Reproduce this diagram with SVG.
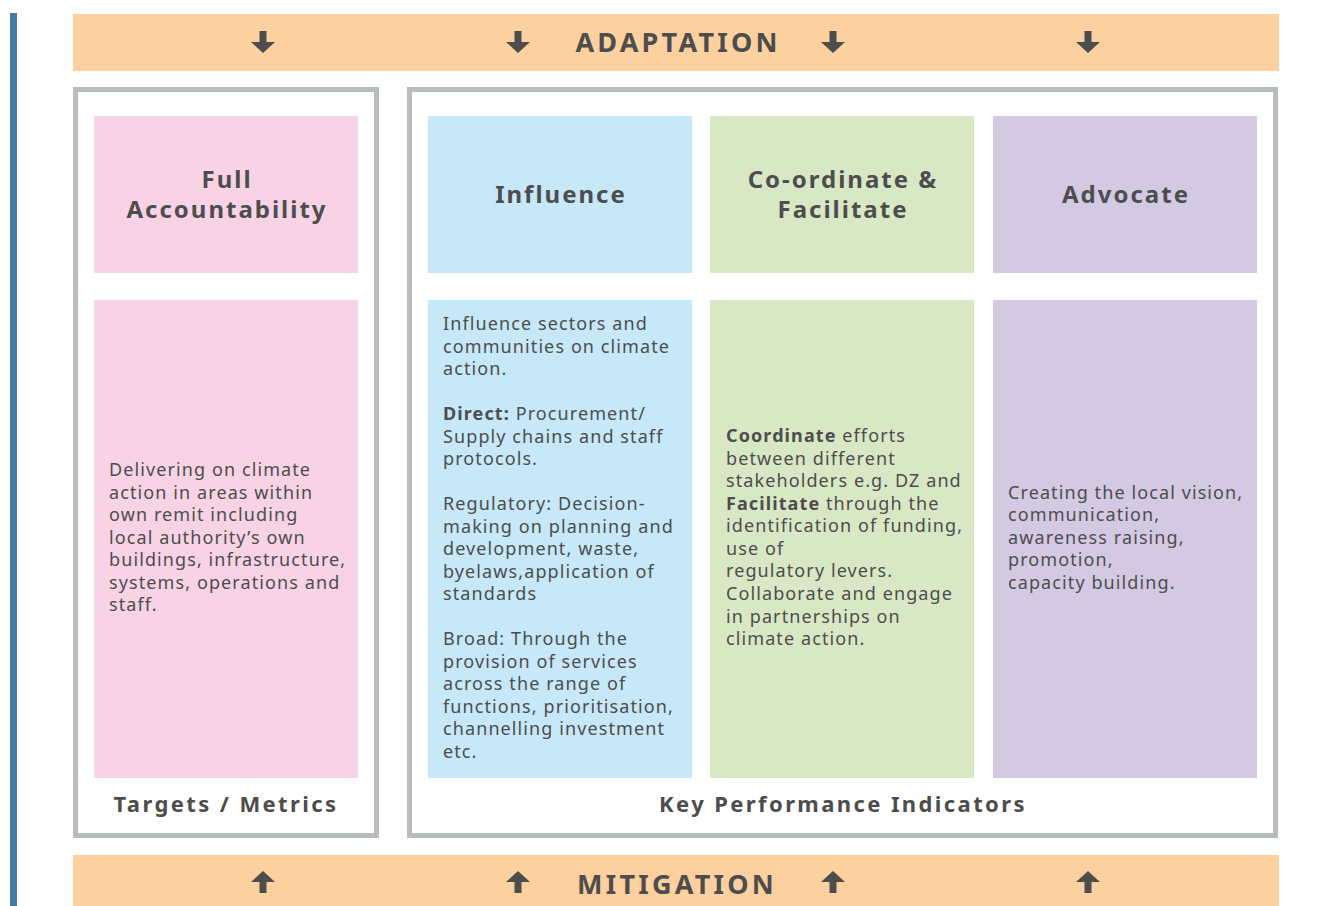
<svg xmlns="http://www.w3.org/2000/svg" xmlns:xlink="http://www.w3.org/1999/xlink" width="1330" height="906" viewBox="0 0 1330 906">
<style>
.band{fill:#fdd09f}
.frame{fill:#fff;stroke:#b8bcbf;stroke-width:5}
.pink{fill:#f8d3e5}.blue{fill:#c6e8f8}.green{fill:#d8e8c5}.purple{fill:#d4c9e3}
text{font-family:"Noto Sans","Open Sans","DejaVu Sans",sans-serif;fill:#4d4d4d}
.band-t{font-size:27px;font-weight:bold;letter-spacing:3.2px;text-anchor:middle}
.hd{font-size:24px;font-weight:bold;letter-spacing:2px;text-anchor:middle}
.ft{font-size:22px;font-weight:bold;letter-spacing:2.4px;text-anchor:middle}
.bd{font-size:18px;letter-spacing:1.1px}
.b{font-weight:bold}
.arr{fill:#4d4d4d}
</style>
<defs>
<path id="down" d="M-3.5,-12 H3.5 V-1 H12 L0,10 L-12,-1 H-3.5 Z"/>
<path id="up" d="M-3.5,12 H3.5 V1 H12 L0,-10 L-12,1 H-3.5 Z"/>
</defs>
<rect x="10" y="13" width="7" height="893" fill="#457ba0"/>
<g id="adaptation">
<rect class="band" x="73" y="14" width="1206" height="57"/>
<text class="band-t" x="678" y="52">ADAPTATION</text>
</g>
<g id="mitigation">
<rect class="band" x="73" y="855" width="1206" height="51"/>
<text class="band-t" x="677" y="894">MITIGATION</text>
</g>
<g id="targets-frame">
<rect class="frame" x="75.5" y="89.5" width="301" height="746"/>
<text class="ft" x="226" y="812">Targets / Metrics</text>
</g>
<g id="kpi-frame">
<rect class="frame" x="409.5" y="89.5" width="866" height="746"/>
<text class="ft" x="843" y="812">Key Performance Indicators</text>
</g>
<g id="full-accountability">
<rect class="pink" x="94" y="116" width="264" height="157"/>
<text class="hd" x="227" y="188">Full</text>
<text class="hd" x="227" y="218">Accountability</text>
<rect class="pink" x="94" y="300" width="264" height="478"/>
<text class="bd" x="109" y="476">Delivering on climate</text>
<text class="bd" x="109" y="499">action in areas within</text>
<text class="bd" x="109" y="521">own remit including</text>
<text class="bd" x="109" y="544">local authority’s own</text>
<text class="bd" x="109" y="566">buildings, infrastructure,</text>
<text class="bd" x="109" y="589">systems, operations and</text>
<text class="bd" x="109" y="611">staff.</text>
</g>
<g id="influence">
<rect class="blue" x="428" y="116" width="264" height="157"/>
<text class="hd" x="561" y="203">Influence</text>
<rect class="blue" x="428" y="300" width="264" height="478"/>
<text class="bd" x="443" y="330">Influence sectors and</text>
<text class="bd" x="443" y="353">communities on climate</text>
<text class="bd" x="443" y="375">action.</text>
<text class="bd" x="443" y="420"><tspan class="b">Direct:</tspan> Procurement/</text>
<text class="bd" x="443" y="443">Supply chains and staff</text>
<text class="bd" x="443" y="465">protocols.</text>
<text class="bd" x="443" y="510">Regulatory: Decision-</text>
<text class="bd" x="443" y="533">making on planning and</text>
<text class="bd" x="443" y="555">development, waste,</text>
<text class="bd" x="443" y="578">byelaws,application of</text>
<text class="bd" x="443" y="600">standards</text>
<text class="bd" x="443" y="645">Broad: Through the</text>
<text class="bd" x="443" y="668">provision of services</text>
<text class="bd" x="443" y="690">across the range of</text>
<text class="bd" x="443" y="713">functions, prioritisation,</text>
<text class="bd" x="443" y="735">channelling investment</text>
<text class="bd" x="443" y="758">etc.</text>
</g>
<g id="coordinate-facilitate">
<rect class="green" x="710" y="116" width="264" height="157"/>
<text class="hd" x="843" y="188">Co-ordinate &amp;</text>
<text class="hd" x="843" y="218">Facilitate</text>
<rect class="green" x="710" y="300" width="264" height="478"/>
<text class="bd" x="726" y="442"><tspan class="b">Coordinate</tspan> efforts</text>
<text class="bd" x="726" y="465">between different</text>
<text class="bd" x="726" y="487">stakeholders e.g. DZ and</text>
<text class="bd" x="726" y="510"><tspan class="b">Facilitate</tspan> through the</text>
<text class="bd" x="726" y="532">identification of funding,</text>
<text class="bd" x="726" y="555">use of</text>
<text class="bd" x="726" y="577">regulatory levers.</text>
<text class="bd" x="726" y="600">Collaborate and engage</text>
<text class="bd" x="726" y="623">in partnerships on</text>
<text class="bd" x="726" y="645">climate action.</text>
</g>
<g id="advocate">
<rect class="purple" x="993" y="116" width="264" height="157"/>
<text class="hd" x="1126" y="203">Advocate</text>
<rect class="purple" x="993" y="300" width="264" height="478"/>
<text class="bd" x="1008" y="499">Creating the local vision,</text>
<text class="bd" x="1008" y="521">communication,</text>
<text class="bd" x="1008" y="544">awareness raising,</text>
<text class="bd" x="1008" y="566">promotion,</text>
<text class="bd" x="1008" y="589">capacity building.</text>
</g>
<g id="connectors" class="arr">
<use xlink:href="#down" x="263" y="43"/>
<use xlink:href="#down" x="518" y="43"/>
<use xlink:href="#down" x="833" y="43"/>
<use xlink:href="#down" x="1088" y="43"/>
<use xlink:href="#up" x="263" y="881"/>
<use xlink:href="#up" x="518" y="881"/>
<use xlink:href="#up" x="833" y="881"/>
<use xlink:href="#up" x="1088" y="881"/>
</g>
</svg>
